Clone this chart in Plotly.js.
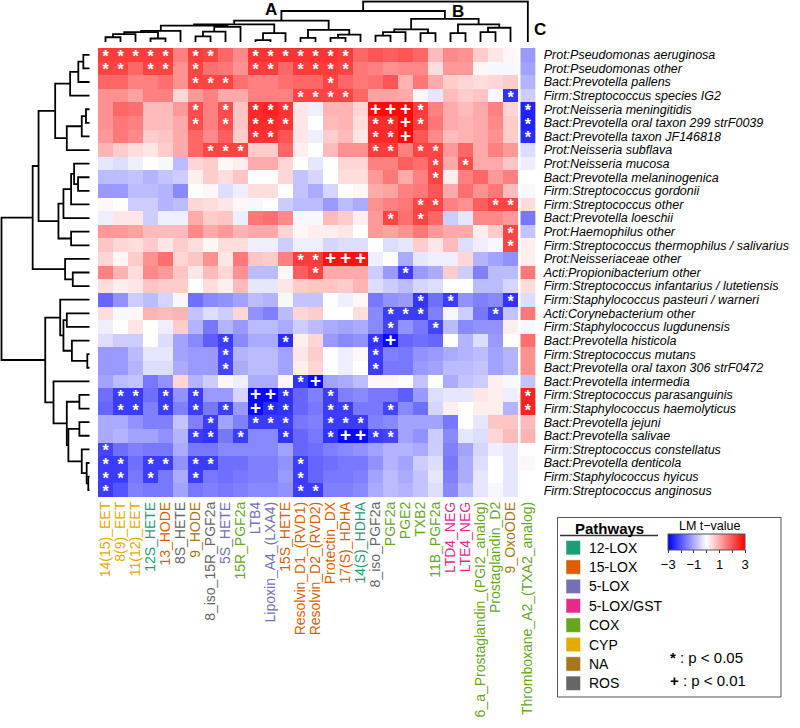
<!DOCTYPE html>
<html><head><meta charset="utf-8">
<script src="https://cdn.plot.ly/plotly-3.0.1.min.js"></script>
<style>body{margin:0;background:#fff}</style>
</head><body><div id="chart" style="width:800px;height:728px"></div>
<script>
// ---------- DATA ----------
const metabolites = ["14(15)_EET","8(9)_EET","11(12)_EET","12S_HETE","13_HODE","8S_HETE","9_HODE",
 "8_iso_15R_PGF2a","5S_HETE","15R_PGF2a","LTB4","Lipoxin_A4_(LXA4)","15S_HETE","Resolvin_D1_(RVD1)",
 "Resolvin_D2_(RVD2)","Protectin_DX","17(S)_HDHA","14(S)_HDHA","8_iso_PGF2a","PGF2a","PGE2","TXB2",
 "11B_PGF2a","LTD4_NEG","LTE4_NEG","6_a_Prostaglandin_(PGI2_analog)","Prostaglandin_D2","9_OxoODE",
 "Thromboxane_A2_(TXA2_analog)"];
const metabolitePathway = ["CYP","CYP","CYP","12-LOX","15-LOX","ROS","NA","ROS","5-LOX","COX","5-LOX","5-LOX",
 "15-LOX","15-LOX","15-LOX","15-LOX","15-LOX","12-LOX","ROS","COX","COX","COX","COX","5-LOX/GST","5-LOX/GST",
 "COX","COX","NA","COX"];
const pathwayNames = ["12-LOX","15-LOX","5-LOX","5-LOX/GST","COX","CYP","NA","ROS"];
const pathwayColors = ["#1B9E77","#D95F02","#7570B3","#E7298A","#66A61E","#E6AB02","#A6761D","#666666"];
const taxa = ["Prot:Pseudomonas aeruginosa","Prot:Pseudomonas other","Bact:Prevotella pallens",
 "Firm:Streptococcus species IG2","Prot:Neisseria meningitidis","Bact:Prevotella oral taxon 299 strF0039",
 "Bact:Prevotella taxon JF146818","Prot:Neisseria subflava","Prot:Neisseria mucosa",
 "Bact:Prevotella melaninogenica","Firm:Streptococcus gordonii","Firm:Streptococcus other",
 "Bact:Prevotella loeschii","Prot:Haemophilus other","Firm:Streptococcus thermophilus / salivarius",
 "Prot:Neisseriaceae other","Acti:Propionibacterium other","Firm:Streptococcus infantarius / lutetiensis",
 "Firm:Staphylococcus pasteuri / warneri","Acti:Corynebacterium other","Firm:Staphylococcus lugdunensis",
 "Bact:Prevotella histicola","Firm:Streptococcus mutans","Bact:Prevotella oral taxon 306 strF0472",
 "Bact:Prevotella intermedia","Firm:Streptococcus parasanguinis","Firm:Staphylococcus haemolyticus",
 "Bact:Prevotella jejuni","Bact:Prevotella salivae","Firm:Streptococcus constellatus",
 "Bact:Prevotella denticola","Firm:Staphylococcus hyicus","Firm:Streptococcus anginosus"];
// LM t-values: one row per taxon, one column per metabolite (last column = Thromboxane, group C)
const tValues = [
 [2.3,2.3,2.3,2.3,2.3,1.5,2.3,2.2,1.8,1.4,2.4,2.4,2.4,2.4,2.4,2.4,2.3,1.8,2.0,1.9,2.0,1.8,0.8,1.4,1.3,0.6,0.3,0.1,-1.2],
 [2.2,2.2,1.8,2.2,2.2,1.3,2.2,1.7,1.6,1.3,2.3,2.3,1.8,2.3,2.3,2.3,2.2,1.6,1.5,1.3,1.4,1.4,0.4,1.2,1.2,0.1,-0.1,-0.1,-1.1],
 [1.8,1.8,1.5,1.5,1.7,1.3,2.2,2.2,2.2,1.7,1.5,1.5,1.7,1.8,1.8,2.2,1.8,1.6,1.7,2.0,0.9,1.6,1.0,0.6,0.5,0.4,0.5,0.6,-0.9],
 [1.3,1.3,1.1,1.5,1.5,0.5,1.2,1.5,1.0,1.0,1.5,1.5,1.5,2.2,2.2,2.2,2.2,1.8,1.1,1.1,1.0,0.1,-0.3,0.8,0.6,0.7,-0.1,-2.4,-0.6],
 [1.3,1.8,1.7,0.8,0.8,1.2,2.1,1.5,2.1,0.7,2.5,2.6,2.4,0.3,-0.2,0.9,0.9,0.5,2.9,2.9,2.9,2.3,1.5,1.0,0.8,1.0,1.5,0.5,-2.6],
 [1.3,1.6,1.5,0.8,0.8,1.0,2.1,1.5,2.1,0.7,2.5,2.5,2.4,0.3,0.0,0.8,0.9,0.4,2.5,2.5,2.9,2.3,1.6,1.0,0.9,1.0,1.4,0.6,-2.6],
 [1.2,1.6,1.4,0.6,0.7,1.0,1.8,1.4,1.9,0.6,2.4,2.4,2.0,0.3,-0.2,0.6,0.8,0.3,2.5,2.5,2.9,2.0,1.4,0.8,0.9,1.0,1.3,0.6,-2.5],
 [0.9,0.6,0.4,0.3,0.6,1.0,1.8,2.2,2.2,2.2,0.6,0.6,1.8,0.2,0.0,0.8,1.3,1.3,2.3,2.3,1.5,2.2,2.2,1.2,1.8,1.0,1.5,1.2,-0.4],
 [-0.3,-0.4,-0.2,0.0,-0.1,-0.8,0.5,0.6,0.1,0.2,1.0,1.0,0.5,0.0,-0.3,0.0,0.5,0.5,1.5,1.5,1.9,1.7,2.2,1.0,2.1,1.0,1.0,0.7,-0.2],
 [-0.8,-0.8,-0.7,-0.9,-0.7,-0.6,0.2,0.6,0.4,0.7,0.0,0.0,0.5,-0.7,-0.5,0.0,0.4,0.4,1.2,1.6,1.0,1.5,2.2,0.2,1.5,1.8,1.2,1.5,0.0],
 [-1.2,-1.2,-0.8,-0.8,-0.9,-1.4,0.0,0.1,-0.4,-0.2,0.4,0.4,0.0,-0.7,-1.0,-0.5,0.0,0.1,1.0,1.1,1.5,1.6,2.0,1.0,1.7,1.3,1.6,0.8,-0.1],
 [0.1,0.0,-0.6,-0.6,-0.9,-0.8,0.5,0.4,0.3,0.1,-0.1,0.0,-0.6,-0.8,-0.8,-1.2,-0.8,-1.0,1.3,1.5,1.6,2.2,2.2,1.5,1.3,1.9,2.2,2.2,0.4],
 [-0.2,0.3,0.3,-0.6,-0.2,-0.2,1.0,0.6,0.7,-0.2,1.6,1.7,1.4,-0.1,-0.1,0.8,0.6,0.2,1.2,2.2,1.7,2.2,1.8,-0.6,-0.3,1.4,1.4,1.2,-1.6],
 [1.2,1.2,1.1,0.8,0.8,0.8,1.4,1.0,1.2,0.9,1.0,1.0,0.5,0.1,0.2,0.2,0.3,0.0,1.2,1.1,1.3,1.6,1.2,1.0,1.0,0.2,0.6,2.2,-0.7],
 [0.7,0.5,0.4,0.6,0.3,0.6,0.4,0.1,0.4,0.4,-0.2,-0.2,-0.6,-0.2,-0.2,-0.5,-0.4,-0.4,0.0,-0.4,-0.3,0.6,0.3,0.8,-0.4,-0.2,-0.1,2.2,0.2],
 [0.5,0.1,0.6,1.3,1.7,0.5,0.7,1.3,0.3,1.6,0.7,0.6,1.5,2.3,2.3,2.8,2.8,2.8,-0.2,0.0,-1.0,-0.3,-0.2,-0.2,0.5,-0.9,-1.1,-1.3,0.2],
 [1.5,0.9,0.4,1.4,1.2,0.7,0.3,0.8,0.5,1.3,-0.8,-0.8,0.1,1.9,2.2,1.0,1.0,1.0,-0.6,-1.2,-2.3,-1.2,-1.0,0.6,-0.6,-1.5,-0.8,-0.8,1.6],
 [0.4,0.2,0.3,0.7,0.6,0.6,0.0,0.4,0.2,0.8,-0.3,-0.3,0.3,0.6,0.7,0.7,0.6,0.9,-0.4,-0.6,-0.8,-0.5,-0.4,0.0,0.0,-0.8,-0.8,-0.5,0.4],
 [-1.8,-1.3,-0.6,-0.8,-0.5,-0.1,-1.7,-1.4,-1.3,-1.1,-0.8,-0.9,-0.1,-0.7,-0.7,0.0,-0.2,0.1,-1.6,-1.3,-1.2,-2.4,-1.7,-2.3,-1.3,-1.5,-1.4,-2.4,-0.4],
 [0.4,-0.1,0.1,0.9,0.8,0.9,-0.7,-0.4,-0.6,0.5,-1.3,-1.5,-0.8,0.5,0.6,0.0,0.0,0.4,-1.4,-2.3,-2.3,-2.3,-1.5,-0.1,-0.6,-1.6,-2.2,-0.7,1.6],
 [-0.2,0.0,0.3,0.0,-0.2,0.6,-0.9,-1.6,-0.9,-1.2,-0.8,-0.8,-1.0,-0.6,-0.8,-1.0,-1.1,-1.0,-1.4,-2.2,-1.3,-1.6,-2.2,-0.8,-1.4,-1.3,-1.3,0.2,-0.1],
 [-0.4,-0.6,-0.6,0.0,-0.4,-1.1,-1.4,-1.9,-2.3,-1.4,-1.0,-1.0,-2.5,0.2,0.5,-1.2,-1.4,-1.3,-2.4,-2.9,-1.8,-1.7,-1.8,0.0,-0.9,-0.4,-1.2,0.0,1.7],
 [-1.2,-1.2,-0.8,-0.3,-0.3,-1.1,-1.2,-1.2,-2.2,-0.9,-0.8,-0.8,-1.1,0.3,0.6,0.0,-0.2,0.1,-2.3,-1.5,-1.6,-1.3,-1.2,-1.0,-0.9,-0.8,-1.1,-0.9,1.3],
 [-1.2,-1.2,-0.9,-0.4,-0.4,-1.0,-1.2,-1.2,-2.2,-1.0,-0.8,-0.8,-1.1,0.2,0.5,0.0,-0.2,0.0,-2.3,-1.6,-1.6,-1.2,-1.1,-0.8,-0.8,-0.7,-1.1,-0.9,1.3],
 [-1.1,-0.8,-0.7,-1.6,-1.3,0.5,-0.9,-0.6,0.1,-0.2,-1.0,-1.0,0.1,-2.4,-2.9,-1.1,-1.0,-0.8,0.1,0.1,0.0,-0.7,0.0,-1.0,-0.7,-0.6,0.2,-0.1,-0.7],
 [-1.7,-2.3,-2.3,-1.7,-2.3,-1.3,-2.3,-1.2,-1.2,-0.5,-2.9,-2.9,-2.4,-1.8,-1.5,-2.3,-1.5,-1.4,-1.6,-1.6,-1.9,-1.2,-0.4,-0.3,-0.3,0.3,0.2,-0.2,2.6],
 [-1.8,-2.3,-2.3,-1.5,-2.3,-1.5,-2.3,-1.6,-2.3,-1.2,-2.9,-2.5,-2.4,-1.8,-1.6,-2.3,-2.3,-1.6,-1.6,-2.2,-1.4,-1.7,-0.5,0.2,0.0,0.2,0.2,-0.9,2.6],
 [-1.0,-1.0,-1.3,-1.5,-1.5,-0.7,-1.5,-2.3,-1.1,-1.5,-2.3,-2.3,-2.3,-1.6,-1.5,-2.3,-2.3,-2.3,-1.5,-1.4,-1.1,-1.1,-1.1,-1.6,0.0,-0.3,0.7,0.7,0.8],
 [-1.0,-0.9,-1.1,-1.1,-1.3,-0.9,-2.3,-2.4,-1.6,-2.3,-1.4,-1.4,-2.4,-1.8,-1.6,-2.4,-2.9,-2.9,-2.3,-2.2,-1.1,-1.3,-0.6,-1.4,-0.3,-0.4,0.5,0.8,0.9],
 [-2.2,-1.7,-1.5,-1.6,-1.6,-1.0,-1.6,-1.6,-1.4,-1.4,-1.4,-1.4,-1.1,-1.8,-1.7,-1.5,-1.4,-1.3,-1.1,-0.9,-0.9,-1.0,-0.6,-1.5,-1.1,-0.5,-0.2,-0.3,0.0],
 [-2.3,-2.3,-1.7,-2.3,-2.3,-1.3,-2.3,-2.3,-1.7,-1.7,-1.5,-1.5,-1.3,-2.3,-1.8,-1.7,-1.6,-1.6,-1.3,-0.9,-1.1,-0.6,-0.4,-1.6,-1.0,-0.4,0.0,-0.3,0.1],
 [-2.3,-2.3,-1.6,-2.3,-1.6,-1.0,-2.3,-1.6,-1.7,-1.6,-1.5,-1.5,-1.2,-2.3,-1.8,-1.6,-1.6,-1.5,-1.1,-0.8,-1.0,-0.7,-0.3,-1.5,-1.0,-0.3,0.0,-0.3,0.0],
 [-2.3,-2.0,-1.5,-1.6,-1.6,-1.1,-1.6,-1.5,-1.6,-1.5,-1.4,-1.4,-1.3,-2.3,-2.3,-1.5,-1.5,-1.4,-1.0,-0.8,-0.9,-0.7,-0.4,-1.4,-0.8,-0.3,-0.1,-0.3,0.0]
];
// significance: '*' p<0.05, '+' p<0.01, '.' none (29 chars per taxon)
const significance = [
 "*****.**..*******............",
 "**.**.*...**.****............",
 "......***......*.............",
 ".............****..........*.",
 "......*.*.***.....+++*......*",
 "......*.*.***.....**+*......*",
 "..........**......**+.......*",
 ".......***........**.**......",
 "......................*.*....",
 "......................*......",
 ".............................",
 ".....................**...**.",
 "...................*.*.......",
 "...........................*.",
 "...........................*.",
 ".............**+++...........",
 "..............*.....*........",
 ".............................",
 ".....................*.*...*.",
 "...................***....*..",
 "...................*..*......",
 "........*...*.....*+.........",
 "........*.........*..........",
 "........*.........*..........",
 ".............*+..............",
 ".**.*.*...++*..*............*",
 ".**.*.*.*.+**..**..*........*",
 ".......*..***..***...........",
 "......**.*..*..*++**.........",
 "*............................",
 "**.**.**.....*...............",
 "**.*..*......*...............",
 "*............**.............."
];
// hierarchical clustering merges (R style: negative = leaf, positive = earlier merge), height
const colMerges = [[-1,-2,0.117],[1,-3,0.195],[-4,-5,0.086],[2,3,0.242],[4,-6,0.273],[-7,-8,0.14],
 [6,-9,0.258],[7,-10,0.375],[-11,-12,0.047],[9,-13,0.219],[5,8,0.406],[11,10,0.4375],[-14,-15,0.10],
 [-16,-17,0.10],[14,-18,0.18],[13,15,0.297],[12,16,0.53],[-19,-20,0.156],[18,-21,0.242],[-22,-23,0.219],
 [19,20,0.3125],[-24,-25,0.219],[-26,-27,0.242],[23,-28,0.352],[22,24,0.4375],[21,25,0.57],[17,26,0.766],
 [27,-29,1.0]];
const rowMerges = [[-1,-2,0.07],[1,-3,0.127],[2,-4,0.22],[-5,-6,0.04],[4,-7,0.088],[5,-8,0.258],[3,6,0.39],
 [-10,-11,0.13],[-9,8,0.175],[9,-12,0.209],[-14,-15,0.209],[10,-13,0.296],[12,11,0.353],[7,13,0.579],
 [-17,-18,0.19],[-16,15,0.277],[14,16,0.646],[-23,-24,0.025],[-22,18,0.2],[-20,-21,0.258],[20,19,0.296],
 [-19,21,0.333],[-26,-27,0.115],[-28,-29,0.115],[-32,-33,0.014],[-31,25,0.032],[-30,26,0.088],[24,27,0.24],
 [23,28,0.258],[-25,29,0.409],[22,30,0.503],[17,31,1.0]];
const colorbarTicks = [-3,-2,-1,0,1,2,3];
const colorbarTickText = ["\u22123","","\u22121","","1","","3"];

// ---------- LAYOUT HELPERS ----------
const W = 800, H = 728;
const px = x => x / W, py = y => 1 - y / H;
const cellW = 15, hmLeft = 98, hmTop = 48, hmBottom = 497;
const nMain = 28, nRows = taxa.length;
const cLeft = 520.5, cRight = 535.2;
const toX = p => (p - hmLeft) / cellW - 0.5;
const cEdges = [toX(cLeft), toX(cRight)];
const cPos = (cEdges[0] + cEdges[1]) / 2;
const colPos = metabolites.map((m, i) => i < nMain ? i : cPos);

const mainZ = tValues.map(r => r.slice(0, nMain));
const cZ = tValues.map(r => [r[nMain]]);
const cs = [[0,'#0000FF'],[0.5,'#FFFFFF'],[1,'#FF0000']];

function dendro(merges, leafPos) {
  const pos = [], ht = [], a = [], b = [];
  const get = id => id < 0 ? [leafPos[-id - 1], 0] : [pos[id - 1], ht[id - 1]];
  merges.forEach(([l, r, h]) => {
    const [pl, hl] = get(l), [pr, hr] = get(r);
    a.push(pl, pl, pr, pr, null); b.push(hl, h, h, hr, null);
    pos.push((pl + pr) / 2); ht.push(h);
  });
  return {pos: a, ht: b};
}
const cd = dendro(colMerges, colPos);
const rd = dendro(rowMerges, taxa.map((t, i) => i));

const starX = [], starY = [], plusX = [], plusY = [];
significance.forEach((s, r) => {
  for (let c = 0; c < s.length; c++) {
    if (s[c] === '*') { starX.push(colPos[c]); starY.push(r + 0.22); }
    else if (s[c] === '+') { plusX.push(colPos[c]); plusY.push(r + 0.04); }
  }
});

const colorOf = p => pathwayColors[pathwayNames.indexOf(p)];
const tickText = metabolites.map((m, i) => `<span style="color:${colorOf(metabolitePathway[i])}">${m}</span>`);

const font = 'Liberation Sans, Arial, Helvetica, sans-serif';
const traces = [
  {type:'heatmap', z: mainZ, x: metabolites.slice(0, nMain).map((m, i) => i), y: taxa.map((t, i) => i),
   colorscale: cs, zmin: -3, zmax: 3, xaxis:'x', yaxis:'y', hoverinfo:'skip',
   colorbar: {orientation:'h', x: px(706.7), xanchor:'center', y: py(534.3), yanchor:'top',
     len: 77, lenmode:'pixels', thickness: 16, thicknessmode:'pixels', xpad:0, ypad:0,
     tickvals: colorbarTicks, ticktext: colorbarTickText, ticks:'outside', ticklen:3, tickwidth:1,
     tickcolor:'#333', tickfont:{size:13, family:font, color:'#000'}, outlinewidth:1, outlinecolor:'#555'}},
  {type:'heatmap', z: cZ, x: cEdges, y: taxa.map((t, i) => i), colorscale: cs, zmin:-3, zmax:3,
   showscale:false, xaxis:'x', yaxis:'y', hoverinfo:'skip'},
  {type:'scatter', mode:'text', x: starX, y: starY, text: starX.map(() => '*'), xaxis:'x', yaxis:'y',
   textfont:{family:font, size:16, color:'#fff', weight:'bold'}, hoverinfo:'skip', cliponaxis:false},
  {type:'scatter', mode:'text', x: plusX, y: plusY, text: plusX.map(() => '+'), xaxis:'x', yaxis:'y',
   textfont:{family:font, size:19, color:'#fff', weight:'bold'}, hoverinfo:'skip', cliponaxis:false},
  {type:'scatter', mode:'lines', x: cd.pos, y: cd.ht, xaxis:'x', yaxis:'y2',
   line:{color:'#000', width:1.8}, hoverinfo:'skip'},
  {type:'scatter', mode:'lines', x: rd.ht, y: rd.pos, xaxis:'x2', yaxis:'y',
   line:{color:'#000', width:1.8}, hoverinfo:'skip'}
];

const ann = (text, x, y, size, xanchor) => ({text, x: px(x), y: py(y), xref:'paper', yref:'paper',
  xanchor: xanchor || 'center', yanchor:'middle', showarrow:false, font:{size, family:font, color:'#000'}});
const annotations = [
  ann('<b>A</b>', 270.5, 10, 17),
  ann('<b>B</b>', 458, 11.5, 17),
  ann('<b>C</b>', 540, 30, 17),
  ann('<b>Pathways</b>', 609.5, 528.5, 15),
  ann('LM t\u2212value', 710, 525.5, 12.5),
  ann('<b>*</b> : p &lt; 0.05', 668, 657, 15, 'left'),
  ann('<b>+</b> : p &lt; 0.01', 668, 680, 15, 'left')
];
const shapes = [
  {type:'rect', xref:'paper', yref:'paper', x0: px(557.5), x1: px(781), y0: py(517.5), y1: py(697),
   line:{color:'#555', width:1}, fillcolor:'rgba(0,0,0,0)'},
  {type:'line', xref:'paper', yref:'paper', x0: px(560), x1: px(658), y0: py(535.5), y1: py(535.5),
   line:{color:'#333', width:1.5}}
];
pathwayNames.forEach((p, i) => {
  const yc = 547.7 + i * 19.37;
  shapes.push({type:'rect', xref:'paper', yref:'paper', x0: px(566), x1: px(580.5), y0: py(yc - 7.2), y1: py(yc + 7.2),
    fillcolor: pathwayColors[i], line:{color:'rgba(255,255,255,0.5)', width:1}});
  annotations.push(ann(p, 586.5, yc, 14, 'left'));
});

const layout = {
  width: W, height: H, margin:{l:0, r:0, t:0, b:0}, paper_bgcolor:'#fff', plot_bgcolor:'rgba(0,0,0,0)',
  showlegend:false, font:{family:font, color:'#000'},
  xaxis:{domain:[px(hmLeft), px(cRight + 0.5)], range:[-0.5, toX(cRight + 0.5)], anchor:'y',
    tickmode:'array', tickvals: colPos, ticktext: tickText, tickangle:-90, tickfont:{size:14, family:font},
    ticks:'', showgrid:false, zeroline:false, showline:false, fixedrange:true, ticklabelstandoff:1},
  yaxis:{domain:[py(hmBottom), py(hmTop)], range:[nRows - 0.5, -0.5], anchor:'x', side:'right',
    tickmode:'array', tickvals: taxa.map((t, i) => i), ticktext: taxa,
    tickfont:{size:12.5, family:font, style:'italic'}, ticks:'', showgrid:false, zeroline:false,
    showline:false, ticklabelstandoff:7},
  xaxis2:{domain:[0, px(90.5)], range:[1 + 1.5/88, -1/88], anchor:'y', visible:false, showgrid:false, zeroline:false},
  yaxis2:{domain:[py(43), py(0.3)], range:[-1/40.5, 1 + 1.2/40.5], anchor:'x', visible:false, showgrid:false, zeroline:false},
  annotations, shapes
};
Plotly.newPlot('chart', traces, layout, {staticPlot:true, displayModeBar:false});
</script></body></html>
